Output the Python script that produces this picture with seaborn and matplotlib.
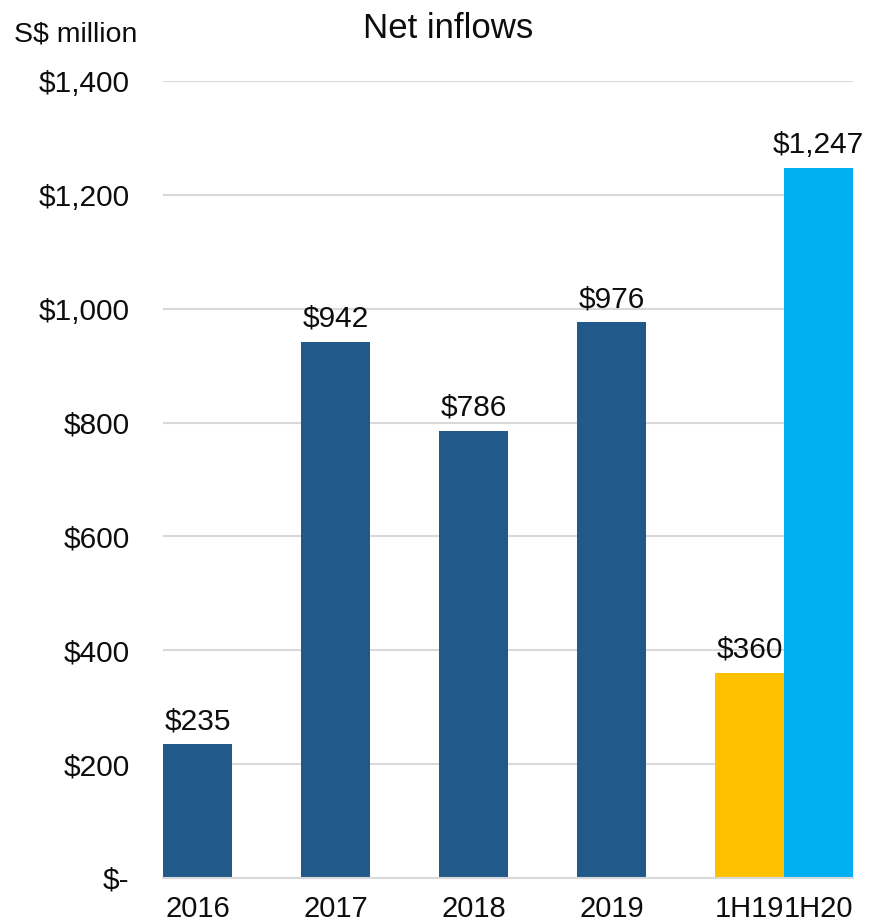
import matplotlib
matplotlib.use("Agg")
import matplotlib.pyplot as plt
import seaborn as sns
import pandas as pd

# Net inflows, S$ million
periods = ["2016", "2017", "2018", "2019", "1H19", "1H20"]
values = [235, 942, 786, 976, 360, 1247]
groups = ["Full year", "Full year", "Full year", "Full year", "1H19", "1H20"]
palette = {"Full year": "#215A8A", "1H19": "#FFC000", "1H20": "#00B0F0"}
y_ticks = [0, 200, 400, 600, 800, 1000, 1200, 1400]

# slot centres: annual bars separated by an empty slot, half-year bars side by side
slot_pos = [0.5, 2.5, 4.5, 6.5, 8.5, 9.5]

df = pd.DataFrame({"pos": slot_pos, "value": values, "group": groups, "period": periods})

sns.set_theme(style="white")
plt.rcParams["font.family"] = ["Liberation Sans", "DejaVu Sans"]
txt = "#0D0D0D"

fig = plt.figure(figsize=(8.7, 9.24), dpi=100)
ax = fig.add_axes([0.1874, 0.0498, 0.7931, 0.8625])

sns.barplot(data=df, x="pos", y="value", hue="group", palette=palette,
            native_scale=True, width=1.0, dodge=False, legend=False,
            saturation=1, ax=ax, linewidth=0, edgecolor="none")

ax.set_xlim(0, 10)
ax.set_ylim(0, 1400)
ax.set_yticks(y_ticks)
ax.set_yticklabels(["$-" if v == 0 else f"${v:,}" for v in y_ticks], fontsize=21.5, color=txt)
ax.set_xticks(slot_pos)
ax.set_xticklabels(periods, fontsize=21, color=txt)
ax.tick_params(axis="y", length=0, pad=24)
ax.tick_params(axis="x", length=0, pad=12)
ax.set_xlabel("")
ax.set_ylabel("")

ax.yaxis.grid(True, color="#D9D9D9", linewidth=1.5)
ax.set_axisbelow(True)
for s in ["top", "right", "left"]:
    ax.spines[s].set_visible(False)
ax.spines["bottom"].set_color("#D9D9D9")
ax.spines["bottom"].set_linewidth(1.5)

for x, v in zip(slot_pos, values):
    ax.text(x, v + 16, f"${v:,}", ha="center", va="bottom", fontsize=21.5, color=txt)

fig.text(448 / 870, 1 - 28 / 924, "Net inflows", ha="center", va="center", fontsize=25, color=txt)
fig.text(14 / 870, 1 - 34 / 924, "S$ million", ha="left", va="center", fontsize=20.5, color=txt)

fig.savefig("out.png", dpi=100)
